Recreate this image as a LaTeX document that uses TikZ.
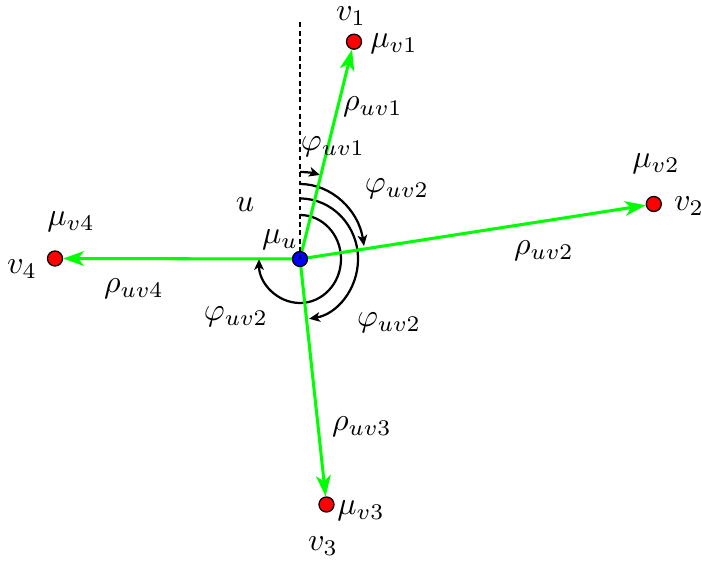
\documentclass[tikz,border=0pt]{standalone}
\usetikzlibrary{arrows.meta}
\begin{document}
\begin{tikzpicture}[x=0.3125pt,y=0.3125pt,
  dotnode/.style={circle,draw=black,line width=0.4pt,inner sep=0pt,minimum size=4.7pt},
  reddot/.style={dotnode,fill=red},
  bluedot/.style={dotnode,fill=blue},
  greenarrow/.style={draw=green,line width=0.95pt,-{Stealth[length=6.5pt,width=4.6pt,inset=1.8pt]}},
  arcarrow/.style={draw=black,line width=0.7pt,-{Stealth[length=3.4pt,width=3pt,inset=0.9pt]}},
  vertline/.style={draw=black,line width=0.75pt,dash pattern=on 1.5pt off 1.1pt},
  lbl/.style={inner sep=0pt}]
\useasboundingbox (0,0) rectangle (701,-566);
% angle arcs
\draw[arcarrow] (300,-172) arc[start angle=90,end angle=75,x radius=24.06pt,y radius=27.19pt];
\draw[arcarrow] (300,-184) arc[start angle=90,end angle=10,x radius=20.31pt,y radius=23.44pt];
\draw[arcarrow] (300,-198.5) arc[start angle=90,end angle=-81,x radius=18.13pt,y radius=18.91pt];
\draw[arcarrow] (300,-215) arc[start angle=90,end angle=-180,x radius=12.81pt,y radius=13.75pt];
% nodes
\node[bluedot] (u) at (300,-259) {};
\node[reddot] (v1) at (354,-41.7) {};
\node[reddot] (v2) at (653.8,-204) {};
\node[reddot] (v3) at (326.5,-504.5) {};
\node[reddot] (v4) at (55,-258.5) {};
\coordinate (top) at (300,-22.5);
% connectors
\draw[greenarrow] (u) -- (v1);
\draw[greenarrow] (u) -- (v2);
\draw[greenarrow] (u) -- (v3);
\draw[greenarrow] (u) -- (v4);
\draw[vertline] (top) -- (u.center);
% labels
\node[lbl] (lv1) at (351,-16) {$v_1$};
\node[lbl] (lmv1) at (394,-44) {$\mu_{v1}$};
\node[lbl] (lr1) at (373,-107) {$\rho_{uv1}$};
\node[lbl] (lp1) at (333,-147) {$\varphi_{uv1}$};
\node[lbl] (lp2) at (397,-189) {$\varphi_{uv2}$};
\node[lbl] (lmv2) at (656,-164) {$\mu_{v2}$};
\node[lbl] (lv2) at (689,-206) {$v_2$};
\node[lbl] (lr2) at (544,-251) {$\rho_{uv2}$};
\node[lbl] (lu) at (245,-205) {$u$};
\node[lbl] (lmu) at (280,-240) {$\mu_u$};
\node[lbl] (lmv4) at (71,-222) {$\mu_{v4}$};
\node[lbl] (lv4) at (22,-269) {$v_4$};
\node[lbl] (lr4) at (134,-289) {$\rho_{uv4}$};
\node[lbl] (lp3) at (236,-317) {$\varphi_{uv2}$};
\node[lbl] (lp4) at (389,-323) {$\varphi_{uv2}$};
\node[lbl] (lr3) at (362,-427) {$\rho_{uv3}$};
\node[lbl] (lmv3) at (361,-511) {$\mu_{v3}$};
\node[lbl] (lv3) at (323,-546) {$v_3$};
\end{tikzpicture}
\end{document}
